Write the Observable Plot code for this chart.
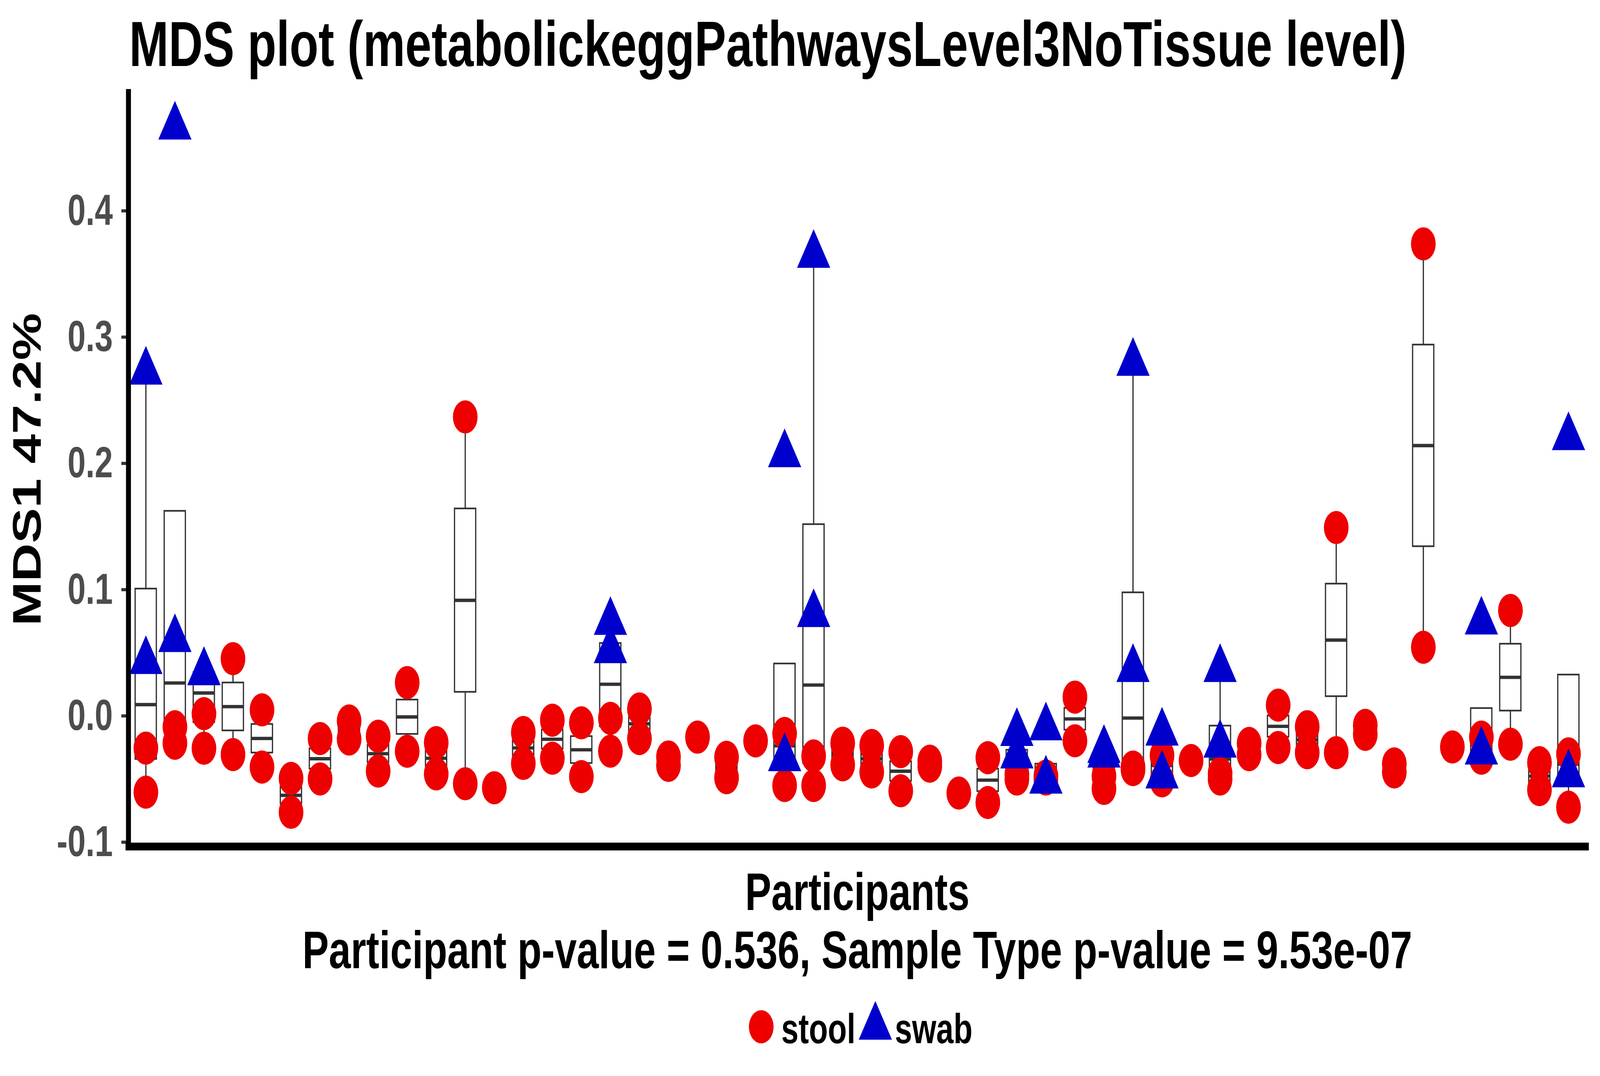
<!DOCTYPE html>
<html>
<head>
<meta charset="utf-8">
<script src="https://cdn.jsdelivr.net/npm/d3@7"></script>
<script src="https://cdn.jsdelivr.net/npm/@observablehq/plot@0.6"></script>
<style>
  html, body { margin: 0; padding: 0; background: #ffffff; overflow: hidden; }
  #page { position: absolute; left: 0; top: 0; width: 5511px; height: 2755px; background: #ffffff; overflow: hidden;
          transform-origin: 0 0;
          font-family: "Liberation Sans", Arial, Helvetica, sans-serif; font-weight: bold; color: #000; }
  #title { position: absolute; left: 445px; top: 31px; font-size: 163px; line-height: 1; white-space: nowrap; }
  #chart { position: absolute; left: 0; top: 210px; }
  #xlab { position: absolute; left: 442px; width: 5022px; top: 2209px; font-size: 135px; line-height: 149px;
          text-align: center; white-space: nowrap; }
  #xlab .second { font-size: 136px; }
  .leg { position: absolute; }
  .legtext { position: absolute; font-size: 107px; line-height: 1; white-space: nowrap; }
</style>
</head>
<body>
<div id="page">
  <div id="title"></div>
  <div id="chart"></div>
  <div id="xlab"></div>
  <div id="legend"></div>
</div>
<script>
// ---------- data ----------
const titleText = "MDS plot (metabolickeggPathwaysLevel3NoTissue level)";
const yLabel = "MDS1 47.2%";
const xLabel = "Participants";
const statLine = "Participant p-value = 0.536, Sample Type p-value = 9.53e-07";
const sampleTypes = ["stool", "swab"];
const typeColors = ["#EE0000", "#0000CD"];
const typeSymbols = ["circle", "triangle"];
const yTicks = [-0.1, 0.0, 0.1, 0.2, 0.3, 0.4];

const participants = ["P01","P02","P03","P04","P05","P06","P07","P08","P09","P10",
  "P11","P12","P13","P14","P15","P16","P17","P18","P19","P20",
  "P21","P22","P23","P24","P25","P26","P27","P28","P29","P30",
  "P31","P32","P33","P34","P35","P36","P37","P38","P39","P40",
  "P41","P42","P43","P44","P45","P46","P47","P48","P49","P50"];

const stoolValues = [
  [-0.0255, -0.0604], [-0.0086, -0.0216], [0.0018, -0.0256], [0.0453, -0.0306], [0.0048, -0.0405],
  [-0.0495, -0.0763], [-0.0179, -0.0499], [-0.0040, -0.0183], [-0.0161, -0.0437], [0.0264, -0.0280],
  [-0.0212, -0.0459], [0.2368, -0.0537], [-0.0569], [-0.0131, -0.0376], [-0.0034, -0.0335],
  [-0.0055, -0.0481], [-0.0019, -0.0279], [0.0055, -0.0179], [-0.0325, -0.0392], [-0.0168],
  [-0.0328, -0.0489], [-0.0198], [-0.0139, -0.0551], [-0.0317, -0.0551], [-0.0216, -0.0387],
  [-0.0234, -0.0444], [-0.0283, -0.0593], [-0.0359, -0.0398], [-0.0611], [-0.0331, -0.0686],
  [-0.0460, -0.0500], [-0.0476, -0.0500], [0.0149, -0.0197], [-0.0477, -0.0574], [-0.0405, -0.0425],
  [-0.0313, -0.0514], [-0.0353], [-0.0455, -0.0500], [-0.0218, -0.0307], [0.0085, -0.0250],
  [-0.0086, -0.0291], [0.1492, -0.0291], [-0.0075, -0.0146], [-0.0380, -0.0444], [0.3738, 0.0544],
  [-0.0246], [-0.0168, -0.0335], [0.0835, -0.0224], [-0.0370, -0.0584], [-0.0301, -0.0723]
];

const swabValues = [
  [0.2726, 0.0434], [0.4667, 0.0608], [0.0347, 0.0345], [], [],
  [], [], [], [], [],
  [], [], [], [], [],
  [], [0.0744, 0.0520], [], [], [],
  [], [], [0.2072, -0.0335], [0.3651, 0.0806], [],
  [], [], [], [], [],
  [-0.0136, -0.0314], [-0.0091, -0.0513], [], [-0.0270, -0.0307], [0.2796, 0.0371],
  [-0.0133, -0.0472], [], [0.0371, -0.0228], [], [],
  [], [], [], [], [],
  [], [0.0747, -0.0283], [], [], [0.2207, -0.0463]
];

// ---------- fit the 5511 x 2755 design into the actual window ----------
const page = document.getElementById("page");
const sx = (window.innerWidth || 5511) / 5511;
const sy = (window.innerHeight || 2755) / 2755;
page.style.transform = `scale(${sx}, ${sy})`;

// ---------- tidy rows ----------
const rows = [];
participants.forEach((p, i) => {
  stoolValues[i].forEach(v => rows.push({participant: p, type: sampleTypes[0], value: v}));
  swabValues[i].forEach(v => rows.push({participant: p, type: sampleTypes[1], value: v}));
});
const stoolRows = rows.filter(r => r.type === sampleTypes[0]);
const swabRows = rows.filter(r => r.type === sampleTypes[1]);

// boxplot statistics (R type-7 quantiles, 1.5 IQR whiskers)
const stats = participants.map(p => {
  const vals = rows.filter(r => r.participant === p).map(r => r.value).sort(d3.ascending);
  const q1 = d3.quantileSorted(vals, 0.25);
  const med = d3.quantileSorted(vals, 0.5);
  const q3 = d3.quantileSorted(vals, 0.75);
  const iqr = q3 - q1;
  const lo = d3.min(vals.filter(v => v >= q1 - 1.5 * iqr));
  const hi = d3.max(vals.filter(v => v <= q3 + 1.5 * iqr));
  return {participant: p, q1, med, q3, lo, hi};
});

const ext = d3.extent(rows, d => d.value);
const pad = (ext[1] - ext[0]) * 0.05;

const boxStroke = "#333333";

const chart = Plot.plot({
  width: 5511,
  height: 1990,
  marginTop: 26,
  marginBottom: 33,
  marginLeft: 442,
  marginRight: 49,
  style: {fontFamily: "'Liberation Sans', Arial, Helvetica, sans-serif", background: "white", overflow: "visible", maxWidth: "none"},
  x: {type: "band", domain: participants, paddingInner: 0.27, paddingOuter: 0.235, round: false, axis: null},
  y: {domain: [ext[0] - pad, ext[1] + pad]},
  marks: [
    Plot.ruleX(stats, {x: "participant", y1: "q3", y2: "hi", stroke: boxStroke, strokeWidth: 4.3}),
    Plot.ruleX(stats, {x: "participant", y1: "lo", y2: "q1", stroke: boxStroke, strokeWidth: 4.3}),
    Plot.barY(stats, {x: "participant", y1: "q1", y2: "q3", fill: "white", stroke: boxStroke, strokeWidth: 4.3}),
    Plot.tickY(stats, {x: "participant", y: "med", stroke: boxStroke, strokeWidth: 8.6}),
    Plot.dot(stoolRows, {x: "participant", y: "value", r: 42.5, fill: typeColors[0], symbol: typeSymbols[0]}),
    Plot.dot(swabRows, {x: "participant", y: "value", r: 42.5, fill: typeColors[1], symbol: typeSymbols[1]}),
    Plot.axisY(yTicks, {tickFormat: d => d.toFixed(1), tickSize: 24, tickPadding: 30, fontSize: 112,
      fontWeight: "bold", fill: "#4D4D4D", stroke: "#333333", strokeWidth: 8, label: null}),
    Plot.frame({anchor: "left", stroke: "black", strokeWidth: 17}),
    Plot.frame({anchor: "bottom", stroke: "black", strokeWidth: 20}),
    Plot.text([yLabel], {frameAnchor: "left", dx: -346, rotate: -90, textAnchor: "middle", lineAnchor: "middle",
      fontSize: 136, fontWeight: "bold", fill: "black"})
  ]
});
document.getElementById("chart").appendChild(chart);

document.getElementById("title").textContent = titleText;
const l1 = document.createElement("div"); l1.textContent = xLabel;
const l2 = document.createElement("div"); l2.className = "second"; l2.textContent = statLine;
document.getElementById("xlab").append(l1, l2);

// ---------- legend ----------
const legend = document.getElementById("legend");
const legendItems = [
  {cx: 2622, textLeft: 2691},
  {cx: 3015, textLeft: 3082}
];
const legendCy = 2629;
const symArea = Math.PI * 42.5 * 42.5;
sampleTypes.forEach((t, i) => {
  const it = legendItems[i];
  const s = 130;
  const svg = d3.create("svg").attr("class", "leg").attr("width", s).attr("height", s)
    .style("left", (it.cx - s / 2) + "px").style("top", (legendCy - s / 2) + "px");
  const sym = typeSymbols[i] === "circle" ? d3.symbolCircle : d3.symbolTriangle;
  svg.append("path").attr("transform", `translate(${s / 2},${s / 2})`)
    .attr("d", d3.symbol(sym, symArea)()).attr("fill", typeColors[i]);
  legend.appendChild(svg.node());
  const span = document.createElement("div");
  span.className = "legtext";
  span.style.left = it.textLeft + "px";
  span.style.top = (2672 - 0.8465 * 107) + "px";
  span.textContent = t;
  legend.appendChild(span);
});
</script>
</body>
</html>
